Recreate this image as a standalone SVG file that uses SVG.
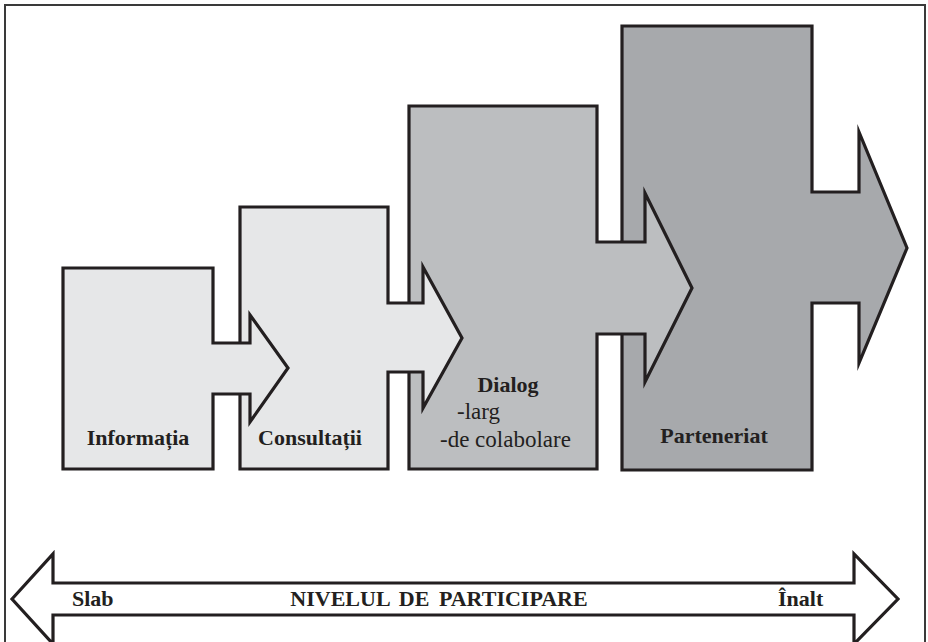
<svg xmlns="http://www.w3.org/2000/svg" width="928" height="642" viewBox="0 0 928 642">
<style>
.s{stroke:#231f20;stroke-width:3.2;stroke-linejoin:miter;stroke-miterlimit:10}
.f1{fill:#e6e7e8}.f3{fill:#bcbec0}.f4{fill:#a7a9ac}
text{font-family:"Liberation Serif","Times New Roman","DejaVu Serif",serif;fill:#231f20;font-size:22px}
.b{font-weight:bold}
.r{font-size:23px;font-weight:normal}
</style>
<rect x="5" y="5" width="920" height="660" fill="#fff" stroke="#3a3a3a" stroke-width="2"/>
<g id="connectors"></g>
<g id="node-parteneriat">
<path class="s f4" d="M622,26 H812 V192 H859 V132 L907,248 L859,363 V303 H812 V470 H622 Z"/>
<text class="b" x="714" y="443" text-anchor="middle">Parteneriat</text>
</g>
<g id="node-dialog">
<path class="s f3" d="M409,106 H597 V242 H645 V193 L692,288 L645,382 V334 H597 V469 H409 Z"/>
<text class="b" x="508" y="392" text-anchor="middle">Dialog</text>
<text class="r" x="457" y="419" font-family="Liberation Serif, serif">-larg</text>
<text class="r" x="440" y="447" font-family="Liberation Serif, serif">-de colabolare</text>
</g>
<g id="node-consultatii">
<path class="s f1" d="M240,207 H388 V303 H423 V267 L462,338 L423,408 V372 H388 V469 H240 Z"/>
<text class="b" x="310" y="445" text-anchor="middle">Consultații</text>
</g>
<g id="node-informatia">
<path class="s f1" d="M63,268 H213 V343 H250 V315 L288,368 L250,422 V394 H213 V469 H63 Z"/>
<text class="b" x="138" y="445" text-anchor="middle">Informația</text>
</g>
<g id="node-nivel">
<path class="s" fill="#fff" d="M12,599 L53,554 V583 H854 V554 L898,599 L854,644 V615 H53 V644 Z"/>
<text class="b" x="72" y="606">Slab</text>
<text class="b" x="439" y="606" text-anchor="middle" word-spacing="4">NIVELUL DE PARTICIPARE</text>
<text class="b" x="778" y="606">Înalt</text>
</g>
</svg>
